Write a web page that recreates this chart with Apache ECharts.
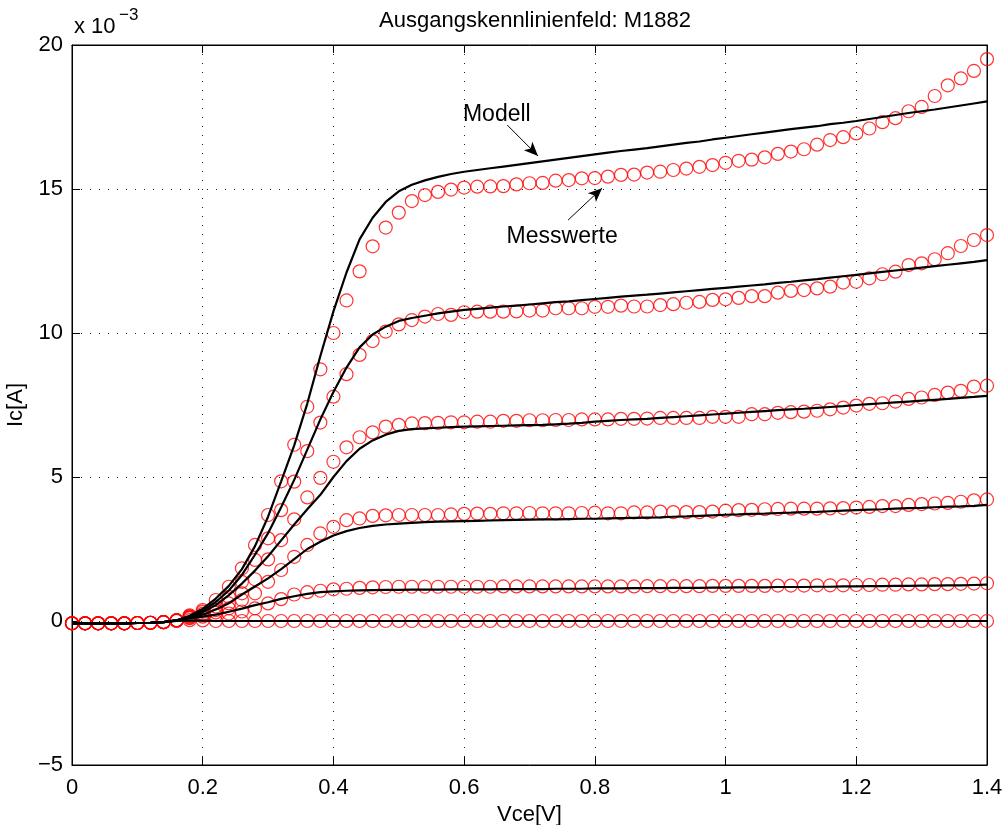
<!DOCTYPE html>
<html>
<head>
<meta charset="utf-8">
<title>Ausgangskennlinienfeld: M1882</title>
<script src="https://cdn.jsdelivr.net/npm/echarts@6/dist/echarts.min.js"></script>
<style>
  html, body { margin: 0; padding: 0; background: #fff; }
  #chart { width: 1005px; height: 825px; }
</style>
</head>
<body>
<div id="chart"></div>
<script>
// Vce in V, Ic in units of 1e-3 A
var vce = [0.00,0.02,0.04,0.06,0.08,0.10,0.12,0.14,0.16,0.18,
           0.20,0.22,0.24,0.26,0.28,0.30,0.32,0.34,0.36,0.38,
           0.40,0.42,0.44,0.46,0.48,0.50,0.52,0.54,0.56,0.58,
           0.60,0.62,0.64,0.66,0.68,0.70,0.72,0.74,0.76,0.78,
           0.80,0.82,0.84,0.86,0.88,0.90,0.92,0.94,0.96,0.98,
           1.00,1.02,1.04,1.06,1.08,1.10,1.12,1.14,1.16,1.18,
           1.20,1.22,1.24,1.26,1.28,1.30,1.32,1.34,1.36,1.38,
           1.40];

// Messwerte (Kreise)
var mess6 = [-0.08,-0.08,-0.08,-0.08,-0.08,-0.07,-0.06,-0.04,0.02,0.2,
  0.38,0.73,1.19,1.83,2.64,3.68,4.85,6.12,7.44,8.74,
  10.0,11.13,12.14,13.01,13.66,14.18,14.58,14.79,14.9,14.98,
  15.05,15.08,15.09,15.1,15.16,15.2,15.21,15.29,15.31,15.37,
  15.38,15.43,15.49,15.5,15.57,15.6,15.66,15.71,15.77,15.83,
  15.91,15.98,16.02,16.1,16.22,16.3,16.38,16.54,16.7,16.8,
  16.93,17.1,17.32,17.46,17.7,17.85,18.23,18.6,18.84,19.1,
  19.51];
var mess5 = [-0.08,-0.08,-0.08,-0.08,-0.08,-0.07,-0.06,-0.04,0.02,0.17,
  0.32,0.5,0.84,1.36,2.12,2.87,3.85,4.84,5.9,6.89,
  7.79,8.57,9.24,9.72,10.05,10.3,10.45,10.57,10.66,10.63,
  10.72,10.74,10.74,10.74,10.75,10.78,10.78,10.86,10.86,10.86,
  10.91,10.91,10.95,10.92,10.92,10.97,11.0,11.05,11.08,11.15,
  11.17,11.22,11.28,11.28,11.4,11.46,11.49,11.55,11.61,11.75,
  11.78,11.9,12.04,12.13,12.36,12.42,12.56,12.77,13.02,13.23,
  13.4];
var mess4 = [-0.08,-0.08,-0.08,-0.08,-0.08,-0.07,-0.06,-0.04,0.02,0.15,
  0.25,0.38,0.61,0.96,1.45,2.14,2.81,3.53,4.29,4.97,
  5.53,6.03,6.38,6.55,6.75,6.81,6.86,6.87,6.88,6.9,
  6.9,6.92,6.92,6.95,6.95,6.97,6.97,6.98,6.98,7.0,
  7.0,7.0,7.02,7.02,7.03,7.05,7.05,7.05,7.05,7.09,
  7.09,7.09,7.18,7.18,7.23,7.25,7.27,7.3,7.35,7.41,
  7.48,7.54,7.56,7.62,7.71,7.76,7.85,7.93,7.99,8.14,
  8.17];
var mess3 = [-0.08,-0.08,-0.08,-0.08,-0.08,-0.07,-0.06,-0.04,0.02,0.12,
  0.2,0.3,0.44,0.73,0.96,1.36,1.77,2.23,2.64,3.04,
  3.27,3.5,3.56,3.65,3.67,3.68,3.68,3.68,3.68,3.7,
  3.72,3.73,3.72,3.74,3.74,3.75,3.74,3.74,3.74,3.75,
  3.76,3.74,3.74,3.77,3.77,3.8,3.78,3.78,3.78,3.8,
  3.83,3.85,3.86,3.88,3.89,3.9,3.9,3.9,3.91,3.92,
  3.94,3.96,3.99,3.99,4.03,4.06,4.08,4.1,4.14,4.19,
  4.22];
var mess2 = [-0.08,-0.08,-0.08,-0.08,-0.08,-0.07,-0.06,-0.04,0.02,0.1,
  0.15,0.2,0.26,0.33,0.44,0.61,0.76,0.92,1.0,1.05,
  1.1,1.12,1.15,1.17,1.18,1.19,1.19,1.19,1.19,1.19,
  1.19,1.19,1.19,1.2,1.2,1.2,1.2,1.2,1.2,1.2,
  1.2,1.2,1.2,1.2,1.21,1.21,1.21,1.21,1.21,1.22,
  1.22,1.22,1.22,1.22,1.23,1.23,1.23,1.24,1.24,1.24,
  1.25,1.25,1.26,1.26,1.27,1.27,1.28,1.28,1.29,1.3,
  1.31];
var mess1 = [-0.08,-0.08,-0.08,-0.08,-0.08,-0.07,-0.06,-0.04,0.0,0.03,
  0.02,0,0,0,0,0,0,0,0,0,
  0,0,0,0,0,0,0,0,0,0,
  0,0,0,0,0,0,0,0,0,0,
  0,0,0,0,0,0,0,0,0,0,
  0,0,0,0,0,0,0,0,0,0,
  0,0,0,0,0,0,0,0,0,0,
  0];

// Modell (Linien)
var mod6 = [-0.08,-0.08,-0.08,-0.08,-0.08,-0.07,-0.06,-0.04,0.02,0.18,
  0.42,0.78,1.22,1.8,2.6,3.62,4.85,6.1,7.55,9.2,
  10.75,12.1,13.25,14.0,14.55,14.92,15.15,15.3,15.42,15.52,
  15.6,15.66,15.72,15.78,15.84,15.9,15.96,16.02,16.08,16.14,
  16.2,16.26,16.32,16.37,16.42,16.48,16.54,16.6,16.65,16.72,
  16.78,16.84,16.9,16.96,17.02,17.08,17.13,17.18,17.25,17.3,
  17.36,17.43,17.5,17.57,17.64,17.7,17.76,17.83,17.9,17.97,
  18.04];
var mod5 = [-0.08,-0.08,-0.08,-0.08,-0.08,-0.07,-0.06,-0.04,0.02,0.16,
  0.36,0.66,1.06,1.6,2.3,3.05,3.95,4.9,5.95,7.0,
  7.95,8.8,9.5,9.95,10.22,10.42,10.52,10.6,10.68,10.74,
  10.8,10.84,10.88,10.92,10.95,10.99,11.03,11.07,11.1,11.14,
  11.18,11.22,11.26,11.3,11.33,11.37,11.41,11.45,11.49,11.53,
  11.57,11.61,11.65,11.69,11.74,11.78,11.83,11.87,11.92,11.97,
  12.02,12.07,12.12,12.17,12.22,12.27,12.32,12.37,12.42,12.47,
  12.53];
var mod4 = [-0.08,-0.08,-0.08,-0.08,-0.08,-0.07,-0.06,-0.04,0.02,0.14,
  0.3,0.55,0.9,1.3,1.75,2.25,2.8,3.35,3.88,4.38,
  5.0,5.55,5.98,6.27,6.47,6.6,6.66,6.69,6.71,6.73,
  6.75,6.76,6.77,6.78,6.79,6.8,6.81,6.83,6.85,6.88,
  6.92,6.95,6.98,7.0,7.02,7.05,7.08,7.11,7.14,7.17,
  7.2,7.23,7.26,7.29,7.32,7.35,7.37,7.4,7.43,7.46,
  7.5,7.53,7.56,7.59,7.62,7.65,7.68,7.71,7.75,7.78,
  7.82];
var mod3 = [-0.08,-0.08,-0.08,-0.08,-0.08,-0.07,-0.06,-0.04,0.02,0.12,
  0.22,0.4,0.62,0.92,1.2,1.48,1.8,2.15,2.5,2.75,
  2.97,3.12,3.23,3.3,3.35,3.38,3.41,3.43,3.45,3.46,
  3.47,3.48,3.49,3.5,3.51,3.52,3.53,3.53,3.54,3.55,
  3.55,3.56,3.57,3.58,3.59,3.6,3.62,3.63,3.65,3.67,
  3.69,3.7,3.72,3.73,3.75,3.76,3.78,3.79,3.81,3.83,
  3.85,3.87,3.88,3.9,3.92,3.93,3.95,3.97,3.98,4.0,
  4.03];
var mod2 = [-0.08,-0.08,-0.08,-0.08,-0.08,-0.07,-0.06,-0.04,0.02,0.09,
  0.15,0.22,0.32,0.43,0.55,0.65,0.77,0.86,0.94,1.0,
  1.03,1.05,1.06,1.07,1.08,1.08,1.09,1.09,1.09,1.1,
  1.1,1.1,1.1,1.11,1.11,1.11,1.11,1.12,1.12,1.12,
  1.13,1.13,1.13,1.14,1.14,1.14,1.15,1.15,1.15,1.16,
  1.16,1.17,1.17,1.17,1.18,1.18,1.18,1.19,1.19,1.2,
  1.2,1.21,1.21,1.22,1.22,1.23,1.23,1.24,1.24,1.25,
  1.26];
var mod1 = [-0.08,-0.08,-0.08,-0.08,-0.08,-0.07,-0.06,-0.04,0.0,0.02,
  0.01,0,0,0,0,0,0,0,0,0,
  0,0,0,0,0,0,0,0,0,0,
  0,0,0,0,0,0,0,0,0,0,
  0,0,0,0,0,0,0,0,0,0,
  0,0,0,0,0,0,0,0,0,0,
  0,0,0,0,0,0,0,0,0,0,
  0];

var messwerte = [mess1, mess2, mess3, mess4, mess5, mess6];
var modell = [mod1, mod2, mod3, mod4, mod5, mod6];

// Beschriftung (Datenkoordinaten)
var modellText = [0.650, 17.57];
var modellPfeil = [[0.666, 17.22], [0.713, 16.15]];
var messText = [0.750, 13.33];
var messPfeil = [[0.759, 13.92], [0.811, 15.03]];

var FONT = 'Liberation Sans, Arial, Helvetica, sans-serif';

function pairs(ys) {
  return vce.map(function (v, i) { return [v, ys[i]]; });
}

var series = [];
messwerte.forEach(function (ys) {
  series.push({
    type: 'scatter',
    data: pairs(ys),
    symbol: 'circle',
    symbolSize: 13,
    silent: true,
    itemStyle: { color: 'rgba(0,0,0,0)', borderColor: '#ff0000', borderWidth: 1.2 },
    z: 2
  });
});
modell.forEach(function (ys, k) {
  var s = {
    type: 'line',
    data: pairs(ys),
    showSymbol: false,
    silent: true,
    lineStyle: { color: '#000', width: 2.2 },
    z: 3
  };
  if (k === 5) {
    s.markLine = {
      silent: true,
      symbol: ['none', 'arrow'],
      symbolSize: [9, 14],
      label: { show: false },
      lineStyle: { color: '#000', width: 1, type: 'solid' },
      data: [
        [{ coord: modellPfeil[0] }, { coord: modellPfeil[1] }],
        [{ coord: messPfeil[0] }, { coord: messPfeil[1] }]
      ]
    };
  }
  series.push(s);
});

var myChart = echarts.init(document.getElementById('chart'), null, { renderer: 'canvas' });

var option = {
  animation: false,
  backgroundColor: '#fff',
  textStyle: { fontFamily: FONT },
  title: {
    text: 'Ausgangskennlinienfeld: M1882',
    left: 530,
    textAlign: 'center',
    top: 5,
    textStyle: { fontFamily: FONT, fontSize: 22, fontWeight: 'normal', color: '#000' }
  },
  grid: {
    left: 72, right: 18, top: 45, bottom: 60,
    containLabel: false, outerBoundsMode: 'none',
    show: true, borderColor: '#000', borderWidth: 1
  },
  xAxis: [{
    type: 'value', min: 0, max: 1.4, interval: 0.2,
    name: 'Vce[V]', nameLocation: 'middle', nameGap: 35,
    nameTextStyle: { fontFamily: FONT, fontSize: 22, color: '#000' },
    axisLine: { show: true, onZero: false, lineStyle: { color: '#000', width: 1 } },
    axisTick: { show: true, inside: true, length: 8, lineStyle: { color: '#000' } },
    axisLabel: { color: '#000', fontSize: 22, fontFamily: FONT, margin: 12 },
    splitLine: { show: true, lineStyle: { color: '#222', width: 1, type: [1, 8] } }
  }, {
    type: 'value', min: 0, max: 1.4, interval: 0.2, position: 'top',
    axisLine: { show: true, onZero: false, lineStyle: { color: '#000', width: 1 } },
    axisTick: { show: true, inside: true, length: 8, lineStyle: { color: '#000' } },
    axisLabel: { show: false },
    splitLine: { show: false }
  }],
  yAxis: [{
    type: 'value', min: -5, max: 20, interval: 5,
    name: 'Ic[A]', nameLocation: 'middle', nameGap: 36,
    nameTextStyle: { fontFamily: FONT, fontSize: 22, color: '#000' },
    axisLine: { show: true, onZero: false, lineStyle: { color: '#000', width: 1 } },
    axisTick: { show: true, inside: true, length: 8, lineStyle: { color: '#000' } },
    axisLabel: {
      color: '#000', fontSize: 22, fontFamily: FONT, margin: 9,
      formatter: function (v) { return v < 0 ? '\u2212' + (-v) : String(v); }
    },
    splitLine: { show: true, lineStyle: { color: '#222', width: 1, type: [1, 8] } }
  }, {
    type: 'value', min: -5, max: 20, interval: 5, position: 'right',
    axisLine: { show: true, onZero: false, lineStyle: { color: '#000', width: 1 } },
    axisTick: { show: true, inside: true, length: 8, lineStyle: { color: '#000' } },
    axisLabel: { show: false },
    splitLine: { show: false }
  }],
  series: series
};

myChart.setOption(option);

// Texte an Datenpositionen
var pModell = myChart.convertToPixel({ gridIndex: 0 }, modellText);
var pMess = myChart.convertToPixel({ gridIndex: 0 }, messText);

myChart.setOption({
  graphic: [
    { type: 'text', left: 74, top: 16,
      style: { text: 'x 10', fontFamily: FONT, fontSize: 22, fill: '#000' } },
    { type: 'text', left: 119, top: 7,
      style: { text: '\u22123', fontFamily: FONT, fontSize: 17, fill: '#000' } },
    { type: 'text', x: pModell[0], y: pModell[1],
      style: { text: 'Modell', fontFamily: FONT, fontSize: 23, fill: '#000', align: 'center', verticalAlign: 'middle' } },
    { type: 'text', x: pMess[0], y: pMess[1],
      style: { text: 'Messwerte', fontFamily: FONT, fontSize: 23, fill: '#000', align: 'center', verticalAlign: 'middle' } }
  ]
});
</script>
</body>
</html>
